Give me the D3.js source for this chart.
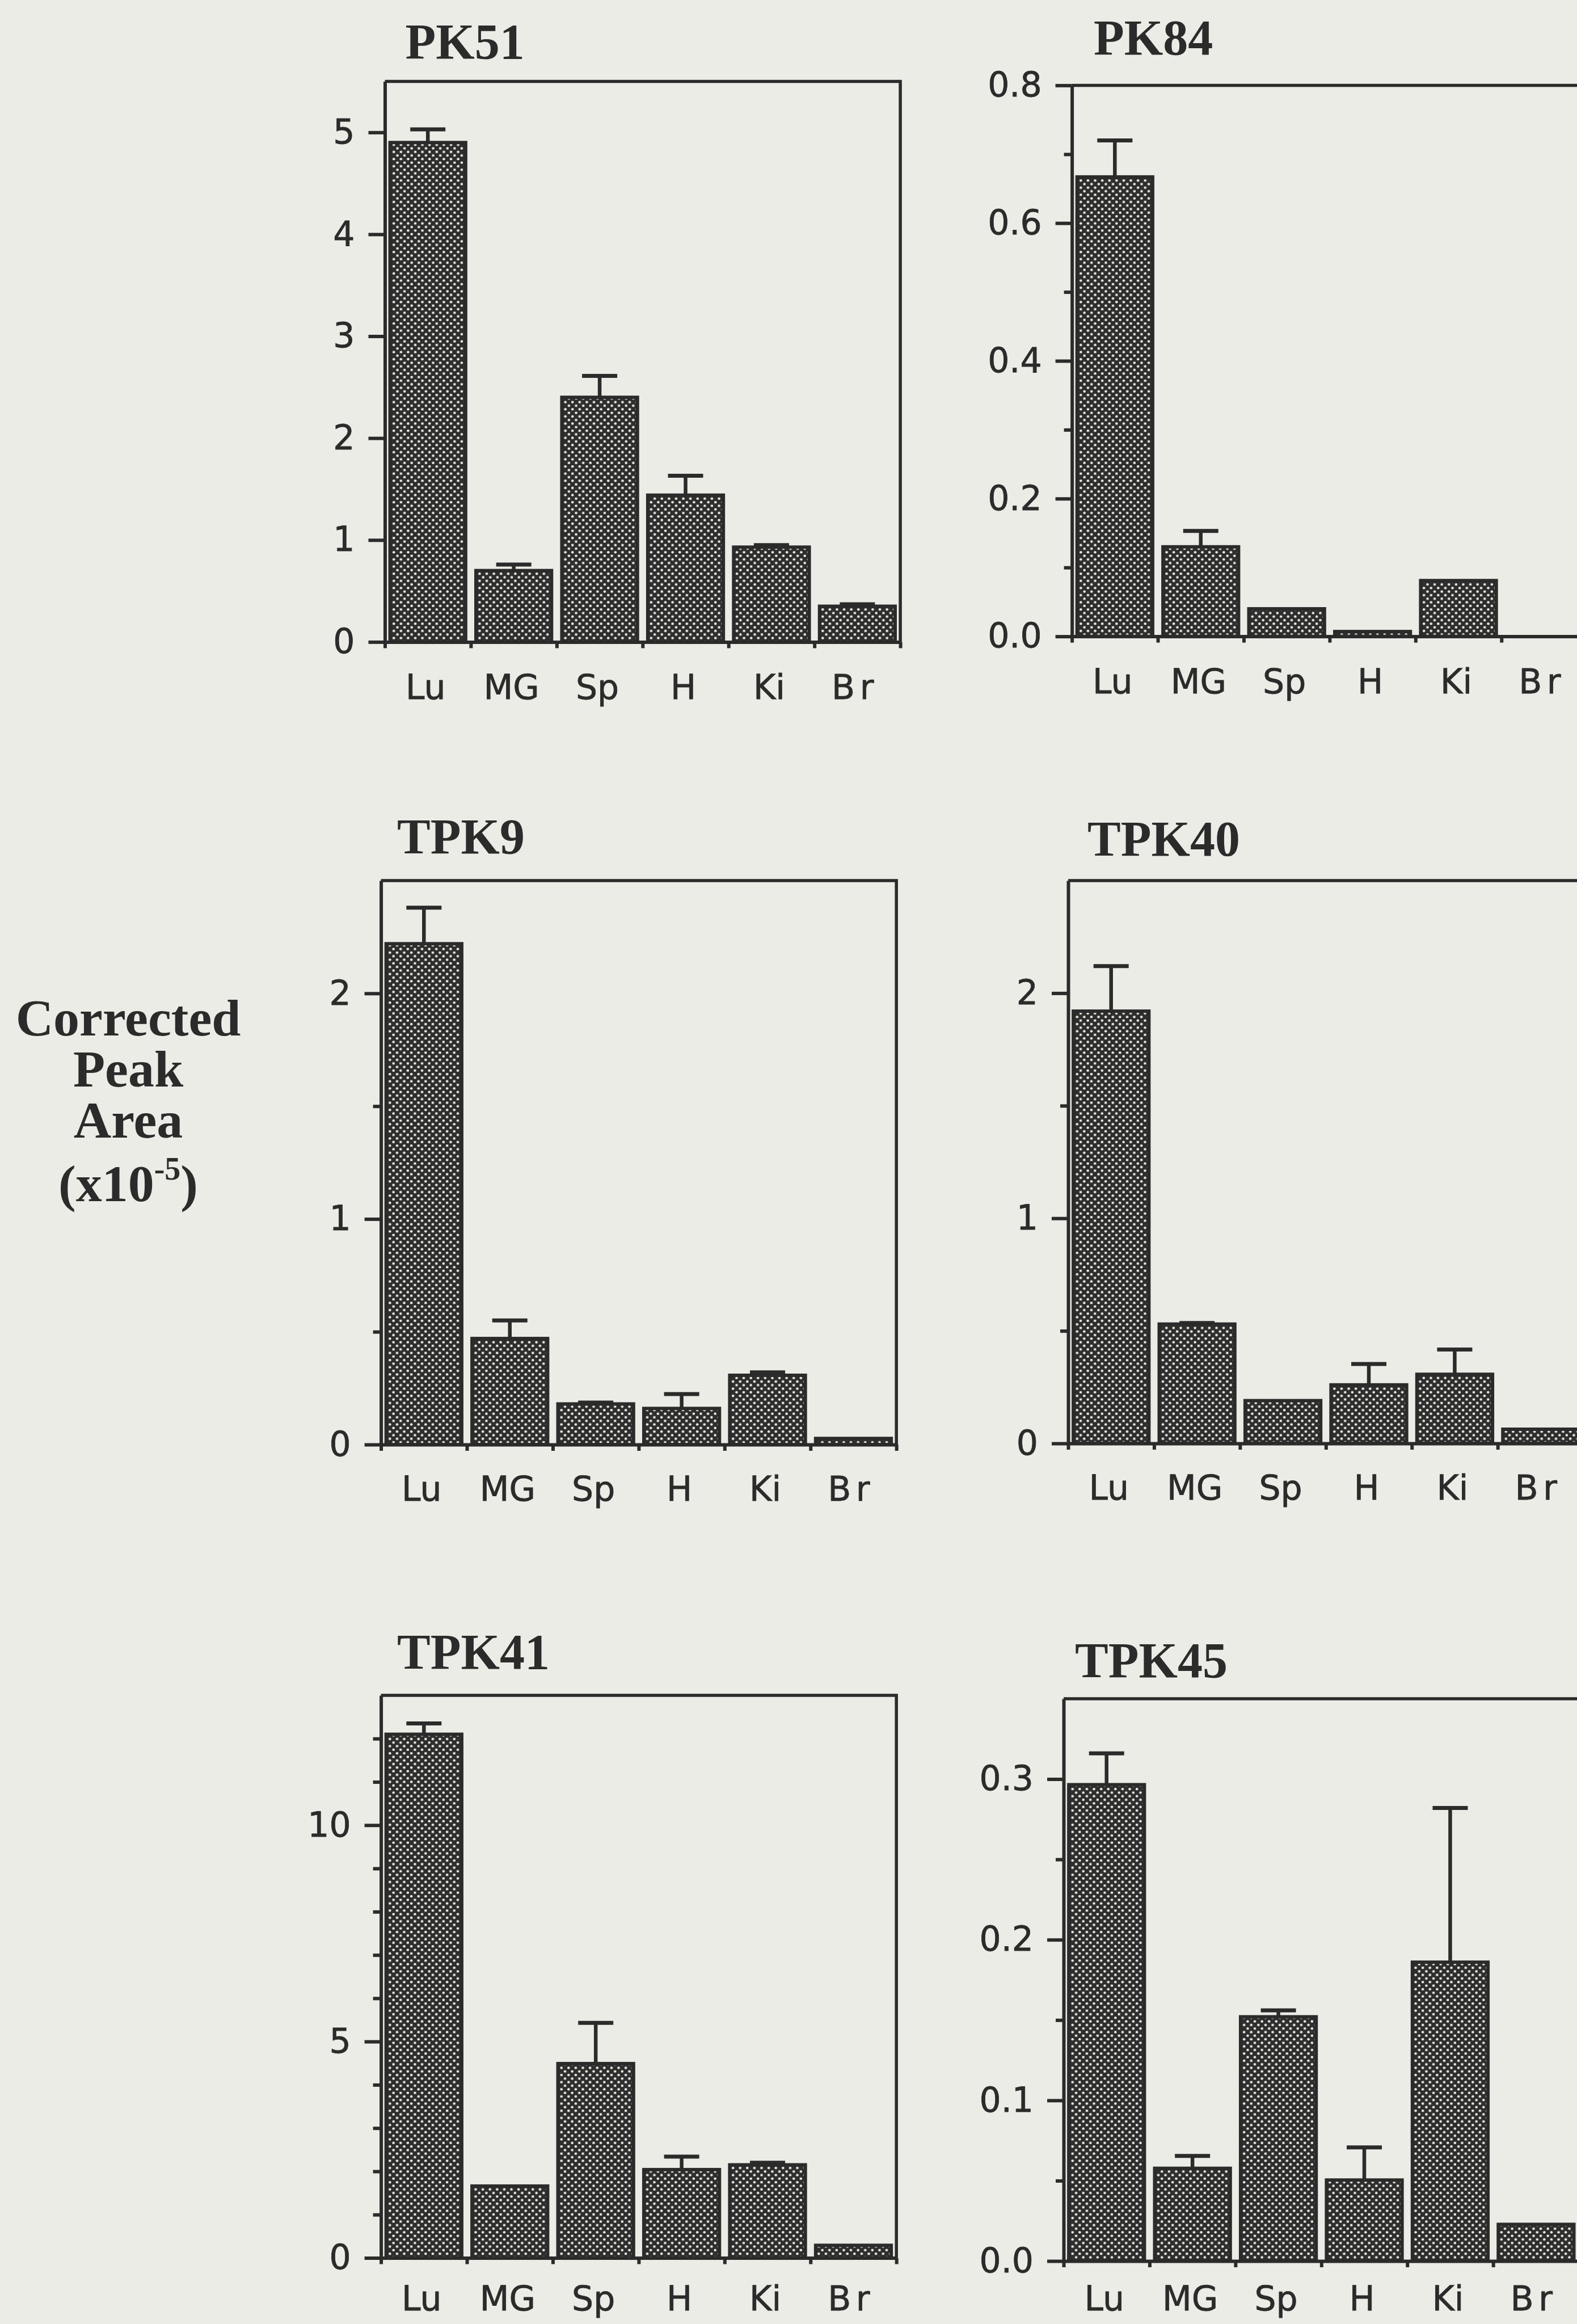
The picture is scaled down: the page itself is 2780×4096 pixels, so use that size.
<!DOCTYPE html>
<html>
<head>
<meta charset="utf-8">
<script src="https://cdn.jsdelivr.net/npm/d3@7"></script>
<style>
  html, body { margin: 0; padding: 0; background: #ecece7; overflow: hidden; }
  svg { display: block; }
</style>
</head>
<body>
<script>
	// organs on the x axis, same for every panel
	var organs = ["Lu", "MG", "Sp", "H", "Ki", "Br"];

	// mean and standard error (upper bar only) per compound
	var pk51Mean  = [4.90, 0.70, 2.40, 1.44, 0.93, 0.35];
	var pk51Err   = [0.13, 0.06, 0.21, 0.19, 0.02, 0.02];
	var pk84Mean  = [0.667, 0.130, 0.040, 0.007, 0.081, 0];
	var pk84Err   = [0.053, 0.023, 0, 0, 0, 0];
	var tpk9Mean  = [2.22, 0.47, 0.18, 0.16, 0.307, 0.027];
	var tpk9Err   = [0.16, 0.08, 0.006, 0.064, 0.013, 0];
	var tpk40Mean = [1.92, 0.53, 0.19, 0.26, 0.307, 0.063];
	var tpk40Err  = [0.20, 0.005, 0, 0.093, 0.11, 0];
	var tpk41Mean = [12.1, 1.66, 4.49, 2.04, 2.15, 0.29];
	var tpk41Err  = [0.25, 0, 0.94, 0.30, 0.05, 0];
	var tpk45Mean = [0.2965, 0.0577, 0.152, 0.0504, 0.186, 0.0228];
	var tpk45Err  = [0.0195, 0.0077, 0.004, 0.0203, 0.096, 0];

	// y axis ticks (labelled) and minor ticks
	var pk51Ticks  = [0, 1, 2, 3, 4, 5],        pk51Minor  = [];
	var pk84Ticks  = [0, 0.2, 0.4, 0.6, 0.8],   pk84Minor  = [0.1, 0.3, 0.5, 0.7];
	var tpk9Ticks  = [0, 1, 2],                 tpk9Minor  = [0.5, 1.5];
	var tpk40Ticks = [0, 1, 2],                 tpk40Minor = [0.5, 1.5];
	var tpk41Ticks = [0, 5, 10],                tpk41Minor = [1, 2, 3, 4, 6, 7, 8, 9, 11, 12];
	var tpk45Ticks = [0, 0.1, 0.2, 0.3],        tpk45Minor = [0.05, 0.15, 0.25];

	var yTitleLines = ["Corrected", "Peak", "Area"];

	/*
	 * Layout (output pixels)
	 *  lp: gap between the x axis and its labels
	 */
	var W = 2780, H = 4096,
		ink = "#2b2b2b",
		plotW = 908.6;

	var panels = [
		{ name: "PK51",  mean: pk51Mean,  err: pk51Err,  max: 5.5,  ticks: pk51Ticks,  minor: pk51Minor,  fmt: "d",   x: 678.5,  top: 143.5,  bottom: 1131.4, tx: 714.6,  ty: 103.3,  lp: 58 },
		{ name: "PK84",  mean: pk84Mean,  err: pk84Err,  max: 0.8,  ticks: pk84Ticks,  minor: pk84Minor,  fmt: ".1f", x: 1889.6, top: 150.4,  bottom: 1121.6, tx: 1928,   ty: 96.4,   lp: 58 },
		{ name: "TPK9",  mean: tpk9Mean,  err: tpk9Err,  max: 2.5,  ticks: tpk9Ticks,  minor: tpk9Minor,  fmt: "d",   x: 671.6,  top: 1552,   bottom: 2546,   tx: 700,    ty: 1504,   lp: 56 },
		{ name: "TPK40", mean: tpk40Mean, err: tpk40Err, max: 2.5,  ticks: tpk40Ticks, minor: tpk40Minor, fmt: "d",   x: 1883,   top: 1552,   bottom: 2544,   tx: 1917,   ty: 1508,   lp: 56 },
		{ name: "TPK41", mean: tpk41Mean, err: tpk41Err, max: 13,   ticks: tpk41Ticks, minor: tpk41Minor, fmt: "d",   x: 671.6,  top: 2988,   bottom: 3979.5, tx: 700,    ty: 2940.6, lp: 50 },
		{ name: "TPK45", mean: tpk45Mean, err: tpk45Err, max: 0.35, ticks: tpk45Ticks, minor: tpk45Minor, fmt: ".1f", x: 1875,   top: 2994,   bottom: 3985,   tx: 1895,   ty: 2955.5, lp: 44.5 }
	];

	var svg = d3.select("body").append("svg")
		.attr("width", W)
		.attr("height", H);

	svg.append("rect")
		.attr("width", W)
		.attr("height", H)
		.attr("fill", "#ecece7");

	// halftone dot fill of the bars
	var pat = svg.append("defs").append("pattern")
		.attr("id", "dots")
		.attr("patternUnits", "userSpaceOnUse")
		.attr("width", 12.6)
		.attr("height", 12.6);
	pat.append("rect").attr("width", 12.6).attr("height", 12.6).attr("fill", "#2e2e2e");
	pat.append("circle").attr("cx", 3.15).attr("cy", 3.15).attr("r", 2.3).attr("fill", "#ecece6");
	pat.append("circle").attr("cx", 9.45).attr("cy", 9.45).attr("r", 2.3).attr("fill", "#ecece6");

	panels.forEach(drawPanel);

	function drawPanel(p) {
		var g = svg.append("g").attr("transform", "translate(" + p.x + ",0)");

		var x = d3.scaleBand()
			.domain(organs)
			.range([0, plotW])
			.padding(0);

		var xEdge = d3.scaleLinear()
			.domain([0, organs.length])
			.range([0, plotW]);

		var y = d3.scaleLinear()
			.domain([0, p.max])
			.range([p.bottom, p.top]);

		// frame (top and right)
		g.append("path")
			.attr("d", "M0," + y(p.max) + "H" + plotW + "V" + y(0))
			.attr("fill", "none")
			.attr("stroke", ink)
			.attr("stroke-width", 5.5);

		// bars
		var inset = x.bandwidth() * 0.06,
			barW = x.bandwidth() * 0.88;

		g.append("g").selectAll("rect")
			.data(p.mean)
			.enter().append("rect")
				.attr("x", function(d, i) { return x(organs[i]) + inset; })
				.attr("y", function(d) { return y(d); })
				.attr("width", barW)
				.attr("height", function(d) { return y(0) - y(d); })
				.attr("fill", "url(#dots)")
				.attr("stroke", ink)
				.attr("stroke-width", function(d) { return d > 0 ? 6 : 0; });

		// error bars, upper side only
		var errs = p.mean.map(function(m, i) { return { organ: organs[i], lo: m, hi: m + p.err[i] }; })
			.filter(function(d) { return d.hi > d.lo; });

		var eb = g.append("g")
			.attr("stroke", ink)
			.attr("stroke-width", 6.5);

		eb.selectAll("line.stem")
			.data(errs)
			.enter().append("line")
				.attr("class", "stem")
				.attr("x1", function(d) { return x(d.organ) + x.bandwidth() / 2; })
				.attr("x2", function(d) { return x(d.organ) + x.bandwidth() / 2; })
				.attr("y1", function(d) { return y(d.lo); })
				.attr("y2", function(d) { return y(d.hi); });

		eb.selectAll("line.cap")
			.data(errs)
			.enter().append("line")
				.attr("class", "cap")
				.attr("x1", function(d) { return x(d.organ) + x.bandwidth() / 2 - 31; })
				.attr("x2", function(d) { return x(d.organ) + x.bandwidth() / 2 + 31; })
				.attr("y1", function(d) { return y(d.hi); })
				.attr("y2", function(d) { return y(d.hi); })
				.attr("stroke-width", 7);

		// y axis, minor ticks first
		var yMinor = g.append("g")
			.call(d3.axisLeft(y).tickValues(p.minor).tickSize(14).tickSizeOuter(0).tickFormat(""));
		yMinor.select(".domain").remove();

		var yAxis = g.append("g")
			.call(d3.axisLeft(y).tickValues(p.ticks).tickSize(29).tickSizeOuter(0).tickPadding(24).tickFormat(d3.format(p.fmt)));

		// x axis: ticks at band edges, labels under band centers
		var xTicks = g.append("g")
			.attr("transform", "translate(0," + y(0) + ")")
			.call(d3.axisBottom(xEdge).tickValues(d3.range(organs.length + 1)).tickSize(11).tickSizeOuter(0).tickFormat(""));

		var xLabels = g.append("g")
			.attr("transform", "translate(0," + y(0) + ")")
			.call(d3.axisBottom(x).tickSize(0).tickPadding(p.lp));
		xLabels.select(".domain").remove();

		[yMinor, yAxis, xTicks].forEach(function(a) {
			a.selectAll("line").attr("stroke", ink).attr("stroke-width", 6);
			a.select(".domain").attr("stroke", ink).attr("stroke-width", 6);
		});

		yAxis.selectAll("text")
			.attr("fill", ink)
			.attr("stroke", ink)
			.attr("stroke-width", 0.8)
			.style("font-family", "'DejaVu Sans', sans-serif")
			.style("font-size", "60px");

		xLabels.selectAll("text")
			.attr("fill", ink)
			.attr("stroke", ink)
			.attr("stroke-width", 0.8)
			.attr("dx", -4)
			.style("font-family", "'DejaVu Sans', sans-serif")
			.style("font-size", "60px")
			.style("letter-spacing", function(d) { return d === "Br" ? "0.14em" : null; });

		// title
		svg.append("text")
			.attr("x", p.tx)
			.attr("y", p.ty)
			.attr("fill", ink)
			.style("font-family", "'Liberation Serif', 'Times New Roman', serif")
			.style("font-weight", "bold")
			.style("font-size", "88px")
			.text(p.name);
	}

	/*
	 * Shared y axis title
	 */
	var yTitle = svg.append("text")
		.attr("text-anchor", "middle")
		.attr("fill", ink)
		.style("font-family", "'Liberation Serif', 'Times New Roman', serif")
		.style("font-weight", "bold")
		.style("font-size", "92px");

	yTitleLines.forEach(function(t, i) {
		yTitle.append("tspan")
			.attr("x", 226)
			.attr("y", 1825 + i * 90)
			.text(t);
	});

	var last = yTitle.append("tspan")
		.attr("x", 226)
		.attr("y", 2117);
	last.append("tspan").text("(x10");
	last.append("tspan").attr("dy", -38).style("font-size", "56px").text("-5");
	last.append("tspan").attr("dy", 38).text(")");
</script>
</body>
</html>
